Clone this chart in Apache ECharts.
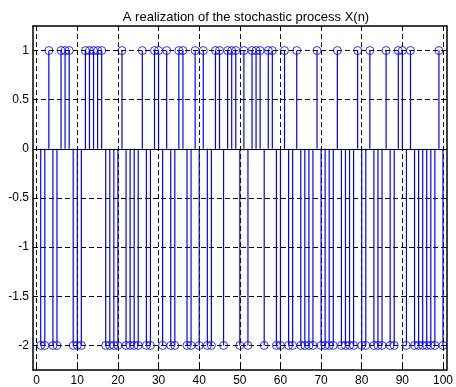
<!DOCTYPE html>
<html>
<head>
<meta charset="utf-8">
<title>A realization of the stochastic process X(n)</title>
<script src="https://cdn.jsdelivr.net/npm/echarts@6/dist/echarts.min.js"></script>
<style>
    html, body { margin: 0; padding: 0; background: #fff; }
    #chart { width: 456px; height: 387px; }
</style>
</head>
<body>
<div id="chart"></div>
<script>
// X(n) for n = 1..100, each sample is either 1 or -2
var processValues = [
    -2, -2, 1, -2, -2, 1, 1, 1, -2, -2,
    -2, 1, 1, 1, 1, 1, -2, -2, -2, -2,
    1, -2, -2, -2, -2, 1, -2, -2, 1, 1,
    -2, 1, -2, -2, 1, 1, -2, -2, 1, -2,
    1, -2, -2, 1, 1, -2, 1, 1, 1, -2,
    1, -2, 1, 1, 1, -2, 1, 1, -2, -2,
    1, -2, -2, 1, -2, -2, -2, -2, 1, -2,
    -2, -2, -2, 1, -2, -2, -2, -2, 1, -2,
    -2, 1, -2, -2, -2, 1, -2, -2, 1, 1,
    -2, 1, -2, -2, -2, -2, -2, -2, 1, -2
];
var xTicks = [0, 10, 20, 30, 40, 50, 60, 70, 80, 90, 100];
var yTicks = [-2, -1.5, -1, -0.5, 0, 0.5, 1];
var titleText = "A realization of the stochastic process X(n)";

var fontName = "Liberation Sans, Arial, Helvetica, sans-serif";

// [n, X(n)] pairs
var stemData = [];
for (var i = 0; i < processValues.length; i++) {
    stemData.push([i + 1, processValues[i]]);
}

// 画茎线：从0到样本值
function renderStem(params, api) {
    var top = api.coord([api.value(0), api.value(1)]);
    var base = api.coord([api.value(0), 0]);
    return {
        type: 'line',
        shape: { x1: top[0], y1: base[1], x2: top[0], y2: top[1] },
        style: { stroke: '#0000ff', lineWidth: 1.2 }
    };
}

var frameLine = { show: true, onZero: false, lineStyle: { color: '#000', width: 1.5 } };
var gridLine = { show: true, lineStyle: { color: '#000', width: 1, type: [5, 3] } };

var myChart = echarts.init(document.getElementById('chart'));
var option = {
    animation: false,
    title: {
        text: titleText,
        left: 241,
        top: 6,
        textAlign: 'center',
        textStyle: { fontFamily: fontName, fontSize: 13, fontWeight: 'normal', color: '#000' }
    },
    grid: { left: 33, right: 6, top: 26, bottom: 17 },
    xAxis: [{
        type: 'value',
        min: -0.9,
        max: 100.9,
        position: 'bottom',
        axisLine: frameLine,
        axisTick: { show: true, inside: true, length: 4, customValues: xTicks, lineStyle: { color: '#000' } },
        axisLabel: { customValues: xTicks, margin: 5, fontFamily: fontName, fontSize: 12, color: '#000' },
        splitLine: gridLine
    }, {
        type: 'value',
        min: -0.9,
        max: 100.9,
        position: 'top',
        axisLine: frameLine,
        axisTick: { show: true, inside: true, length: 4, customValues: xTicks, lineStyle: { color: '#000' } },
        axisLabel: { show: false },
        splitLine: { show: false }
    }],
    yAxis: [{
        type: 'value',
        min: -2.25,
        max: 1.25,
        position: 'left',
        axisLine: frameLine,
        axisTick: { show: true, inside: true, length: 4, customValues: yTicks, lineStyle: { color: '#000' } },
        axisLabel: { customValues: yTicks, margin: 4, fontFamily: fontName, fontSize: 12, color: '#000' },
        splitLine: gridLine
    }, {
        type: 'value',
        min: -2.25,
        max: 1.25,
        position: 'right',
        axisLine: frameLine,
        axisTick: { show: true, inside: true, length: 4, customValues: yTicks, lineStyle: { color: '#000' } },
        axisLabel: { show: false },
        splitLine: { show: false }
    }],
    series: [{
        type: 'custom',
        xAxisIndex: 0,
        yAxisIndex: 0,
        renderItem: renderStem,
        data: stemData,
        z: 3
    }, {
        type: 'scatter',
        xAxisIndex: 0,
        yAxisIndex: 0,
        data: stemData,
        symbol: 'circle',
        symbolSize: 8,
        itemStyle: { color: 'rgba(0,0,0,0)', borderColor: '#0000ff', borderWidth: 1 },
        z: 4,
        markLine: {
            silent: true,
            symbol: 'none',
            label: { show: false },
            lineStyle: { color: '#000', width: 1, type: 'solid' },
            data: [{ yAxis: 0 }]
        }
    }]
};
myChart.setOption(option);
</script>
</body>
</html>
